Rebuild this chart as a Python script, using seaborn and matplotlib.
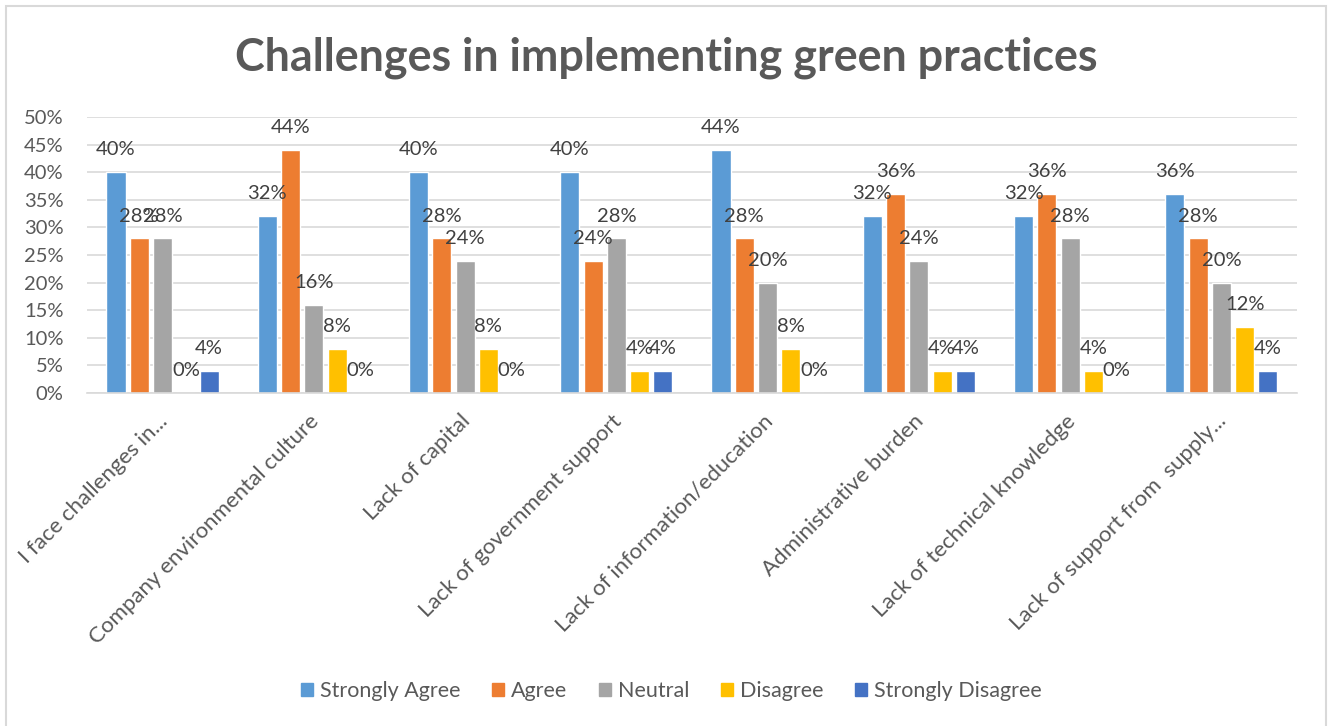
import matplotlib
matplotlib.use("Agg")
import matplotlib.pyplot as plt
from matplotlib.patches import Rectangle
from matplotlib.ticker import MultipleLocator, FuncFormatter
from matplotlib.transforms import ScaledTranslation
import seaborn as sns
import pandas as pd

categories = [
    "I face challenges in...",
    "Company environmental culture",
    "Lack of capital",
    "Lack of government support",
    "Lack of information/education",
    "Administrative burden",
    "Lack of technical knowledge",
    "Lack of support from  supply...",
]
responses = ["Strongly Agree", "Agree", "Neutral", "Disagree", "Strongly Disagree"]
strongly_agree = [0.40, 0.32, 0.40, 0.40, 0.44, 0.32, 0.32, 0.36]
agree = [0.28, 0.44, 0.28, 0.24, 0.28, 0.36, 0.36, 0.28]
neutral = [0.28, 0.16, 0.24, 0.28, 0.20, 0.24, 0.28, 0.20]
disagree = [0.00, 0.08, 0.08, 0.04, 0.08, 0.04, 0.04, 0.12]
strongly_disagree = [0.04, 0.00, 0.00, 0.04, 0.00, 0.04, 0.00, 0.04]
colors = ["#5B9BD5", "#ED7D31", "#A5A5A5", "#FFC000", "#4472C4"]

series = [strongly_agree, agree, neutral, disagree, strongly_disagree]
rows = []
for resp, vals in zip(responses, series):
    for cat, v in zip(categories, vals):
        rows.append({"category": cat, "response": resp, "share": v})
df = pd.DataFrame(rows)

sns.set_theme(style="white")
FONT = "Lato"
plt.rcParams["font.family"] = [FONT, "DejaVu Sans"]

fig = plt.figure(figsize=(13.32, 7.26), dpi=100)
ax = fig.add_axes([0.0653, 0.4587, 0.9084, 0.3801])

sns.barplot(
    data=df, x="category", y="share", hue="response",
    order=categories, hue_order=responses, palette=colors,
    width=0.77, gap=0.18, saturation=1.0, ax=ax, legend=True,
)

ax.set_ylim(0, 0.5)
ax.set_xlim(-0.5, len(categories) - 0.5)
ax.yaxis.set_major_locator(MultipleLocator(0.05))
ax.yaxis.set_major_formatter(FuncFormatter(lambda v, p: f"{v*100:.0f}%"))
ax.grid(axis="y", color="#d9d9d9", linewidth=1.2)
ax.set_axisbelow(True)
for s in ["top", "right", "left"]:
    ax.spines[s].set_visible(False)
ax.spines["bottom"].set_color("#d9d9d9")
ax.spines["bottom"].set_linewidth(1.2)
ax.set_xlabel("")
ax.set_ylabel("")
ax.tick_params(axis="y", labelsize=14.5, labelcolor="#595959", length=0, pad=17)
ax.tick_params(axis="x", length=0, pad=18)
ax.set_xticks(range(len(categories)))
ax.set_xticklabels(categories, rotation=45, ha="right", va="center",
                   rotation_mode="anchor", fontsize=16, color="#595959")
shift = ScaledTranslation(0.02, 0, fig.dpi_scale_trans)
for lbl in ax.get_xticklabels():
    lbl.set_transform(lbl.get_transform() + shift)

for container in ax.containers:
    ax.bar_label(container, fmt=lambda v: f"{v*100:.0f}%", padding=10,
                 fontsize=14.5, color="#404040")

leg = ax.get_legend()
leg.remove()
handles = [Rectangle((0, 0), 1, 1, color=c) for c in colors]
fig.legend(handles, responses, loc="center", bbox_to_anchor=(0.504, 1 - 691 / 726),
           ncol=5, frameon=False, fontsize=15.5, handlelength=0.55, handleheight=0.55,
           handletextpad=0.35, columnspacing=1.45, labelcolor="#595959")

fig.text(0.5, 1 - 58 / 726, "Challenges in implementing green practices",
         ha="center", va="center", fontsize=32.3, fontweight="bold", color="#595959")

fig.patches.append(Rectangle((6 / 1332, -0.05), 1320 / 1332, 1 + 0.05 - 6 / 726,
                             transform=fig.transFigure, fill=False,
                             edgecolor="#d9d9d9", linewidth=1.5))

fig.savefig("out.png", dpi=100, facecolor="white")
